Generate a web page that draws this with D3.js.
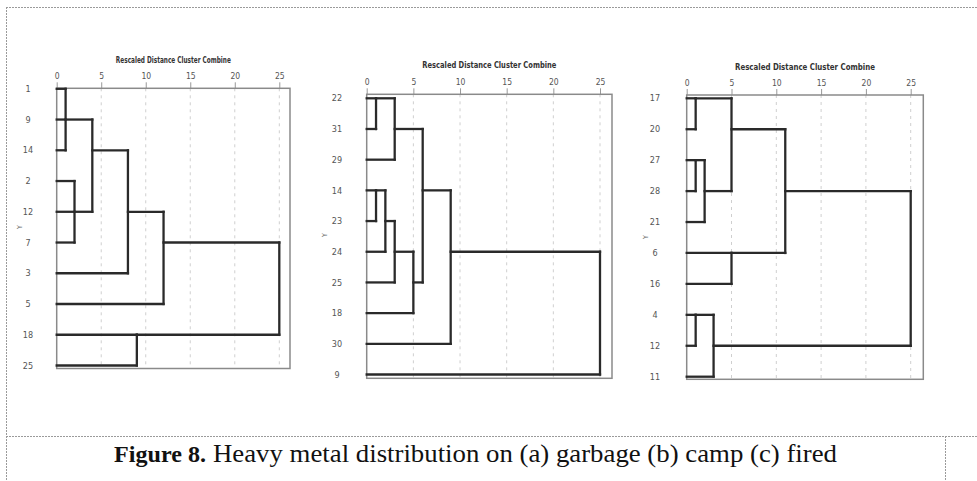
<!DOCTYPE html>
<html>
<head>
<meta charset="utf-8">
<script src="https://cdn.jsdelivr.net/npm/d3@7"></script>
<style>
    body { margin: 0; background: #fff; }
</style>
</head>
<body>
<div id="viz"></div>
<script>
const axisTitle = "Rescaled Distance Cluster Combine";
const tickValues = [0, 5, 10, 15, 20, 25];
const yName = "Y";
const captionBold = "Figure 8.";
const captionText = "Heavy metal distribution on (a) garbage (b) camp (c) fired";

// leaf order, top to bottom
const leavesA = ["1", "9", "14", "2", "12", "7", "3", "5", "18", "25"];
const leavesB = ["22", "31", "29", "14", "23", "24", "25", "18", "30", "9"];
const leavesC = ["17", "20", "27", "28", "21", "6", "16", "4", "12", "11"];

// merges: [members, rescaled distance]; a number is a leaf index, "m#" an earlier merge
const mergesA = [
    [[0, 1, 2], 1],
    [[3, 4, 5], 2],
    [["m0", "m1"], 4],
    [["m2", 6], 8],
    [["m3", 7], 12],
    [[8, 9], 9],
    [["m4", "m5"], 25]
];
const mergesB = [
    [[0, 1], 1],
    [["m0", 2], 3],
    [[3, 4], 1],
    [["m2", 5], 2],
    [["m3", 6], 3],
    [["m4", 7], 5],
    [["m1", "m5"], 6],
    [["m6", 8], 9],
    [["m7", 9], 25]
];
const mergesC = [
    [[0, 1], 1],
    [[2, 3], 1],
    [["m1", 4], 2],
    [["m0", "m2"], 5],
    [[5, 6], 5],
    [["m3", "m4"], 11],
    [[7, 8], 1],
    [["m6", 9], 3],
    [["m5", "m7"], 25]
];

const width = 977;
const height = 481;

const svg = d3.select("#viz")
    .append("svg")
    .attr("width", width)
    .attr("height", height);

const pageStroke = "#9a9a9a";
const narrow = "'Liberation Sans Narrow', 'DejaVu Sans Condensed', 'Liberation Sans', sans-serif";
const serif = "'Liberation Serif', 'Times New Roman', serif";

//page frame (dashed like the document table)
const border = svg.append("g")
    .attr("fill", "none")
    .attr("stroke", pageStroke)
    .attr("stroke-width", 1)
    .attr("stroke-dasharray", "2,1");
border.append("line").attr("x1", 6).attr("x2", width).attr("y1", 7.5).attr("y2", 7.5);
border.append("line").attr("x1", 6.5).attr("x2", 6.5).attr("y1", 7).attr("y2", height);
border.append("line").attr("x1", 6).attr("x2", width).attr("y1", 436.5).attr("y2", 436.5);
border.append("line").attr("x1", 945.5).attr("x2", 945.5).attr("y1", 436).attr("y2", height);

const panels = [
    { leaves: leavesA, merges: mergesA, x0: 56.7, x25: 279.3, frameR: 290, frameT: 88.3, r0: 88.8, r9: 365.5, frameB: 368.5, tickY: 73, titleY: 60, titleW: 115, labelX: 28, yLabelX: 20, yLabelY: 227 },
    { leaves: leavesB, merges: mergesB, x0: 366.7, x25: 600, frameR: 612, frameT: 94.3, r0: 98.3, r9: 374.5, frameB: 378.3, tickY: 81.7, titleY: 65, titleW: 134, labelX: 337, yLabelX: 325, yLabelY: 235 },
    { leaves: leavesC, merges: mergesC, x0: 686.7, x25: 910.7, frameR: 923.3, frameT: 95, r0: 98.3, r9: 376.7, frameB: 379.3, tickY: 81.7, titleY: 66.7, titleW: 140, labelX: 655, yLabelX: 646, yLabelY: 237 }
];

panels.forEach(p => dendrogram(p));

function dendrogram(p) {
    const x = d3.scaleLinear().domain([0, 25]).range([p.x0, p.x25]);
    const y = d3.scaleLinear().domain([0, p.leaves.length - 1]).range([p.r0, p.r9]);
    const g = svg.append("g");

    //title
    g.append("text")
        .attr("x", (p.x0 + p.frameR) / 2)
        .attr("y", p.titleY + 3)
        .attr("text-anchor", "middle")
        .attr("font-family", narrow)
        .attr("font-weight", "bold")
        .attr("font-size", 8.5)
        .attr("fill", "#333")
        .attr("textLength", p.titleW)
        .attr("lengthAdjust", "spacingAndGlyphs")
        .text(axisTitle);

    //grid lines
    g.append("g")
        .selectAll("line")
        .data(tickValues.filter(d => d > 0))
        .join("line")
        .attr("x1", d => x(d)).attr("x2", d => x(d))
        .attr("y1", p.frameT).attr("y2", p.frameB)
        .attr("stroke", "#cfcfcf")
        .attr("stroke-dasharray", "3,4");

    //top axis
    const axis = g.append("g")
        .attr("transform", `translate(0,${p.frameT})`)
        .call(d3.axisTop(x).tickValues(tickValues).tickSize(6).tickPadding(3));
    axis.select(".domain").remove();
    axis.selectAll(".tick line").attr("stroke", "#999");
    axis.selectAll(".tick text")
        .attr("font-family", narrow)
        .attr("font-size", 8.5)
        .attr("fill", "#555");

    //frame
    g.append("rect")
        .attr("x", p.x0).attr("y", p.frameT)
        .attr("width", p.frameR - p.x0).attr("height", p.frameB - p.frameT)
        .attr("fill", "none")
        .attr("stroke", "#8a8a8a")
        .attr("stroke-width", 1.5);

    //leaf labels
    g.append("g")
        .selectAll("text")
        .data(p.leaves)
        .join("text")
        .attr("x", p.labelX)
        .attr("y", (d, i) => y(i))
        .attr("dy", "0.35em")
        .attr("text-anchor", "middle")
        .attr("font-family", narrow)
        .attr("font-size", 9)
        .attr("fill", "#555")
        .text(d => d);

    g.append("text")
        .attr("transform", `translate(${p.yLabelX},${p.yLabelY}) rotate(-90)`)
        .attr("text-anchor", "middle")
        .attr("dy", "0.35em")
        .attr("font-family", narrow)
        .attr("font-size", 7)
        .attr("fill", "#666")
        .text(yName);

    //build segments from merges
    const nodes = {};
    p.leaves.forEach((d, i) => nodes[i] = { row: i, h: 0 });
    const segs = [];
    p.merges.forEach(([members, dist], k) => {
        const ms = members.map(m => nodes[m]);
        ms.forEach(m => segs.push({ x1: m.h, x2: dist, y1: m.row, y2: m.row }));
        const lo = d3.min(ms, m => m.row);
        const hi = d3.max(ms, m => m.row);
        segs.push({ x1: dist, x2: dist, y1: lo, y2: hi });
        nodes["m" + k] = { row: Math.floor((lo + hi) / 2), h: dist };
    });

    g.append("g")
        .selectAll("line")
        .data(segs)
        .join("line")
        .attr("x1", d => x(d.x1)).attr("x2", d => x(d.x2))
        .attr("y1", d => y(d.y1)).attr("y2", d => y(d.y2))
        .attr("stroke", "#2a2a2a")
        .attr("stroke-width", 2.3)
        .attr("stroke-linecap", "square");
}

//caption
svg.append("text")
    .attr("x", 114)
    .attr("y", 462)
    .attr("font-family", serif)
    .attr("font-weight", "bold")
    .attr("font-size", 24)
    .attr("fill", "#111")
    .attr("textLength", 92)
    .attr("lengthAdjust", "spacingAndGlyphs")
    .text(captionBold);
svg.append("text")
    .attr("x", 213)
    .attr("y", 462)
    .attr("font-family", serif)
    .attr("font-size", 25)
    .attr("fill", "#111")
    .attr("textLength", 624)
    .attr("lengthAdjust", "spacingAndGlyphs")
    .text(captionText);
</script>
</body>
</html>
